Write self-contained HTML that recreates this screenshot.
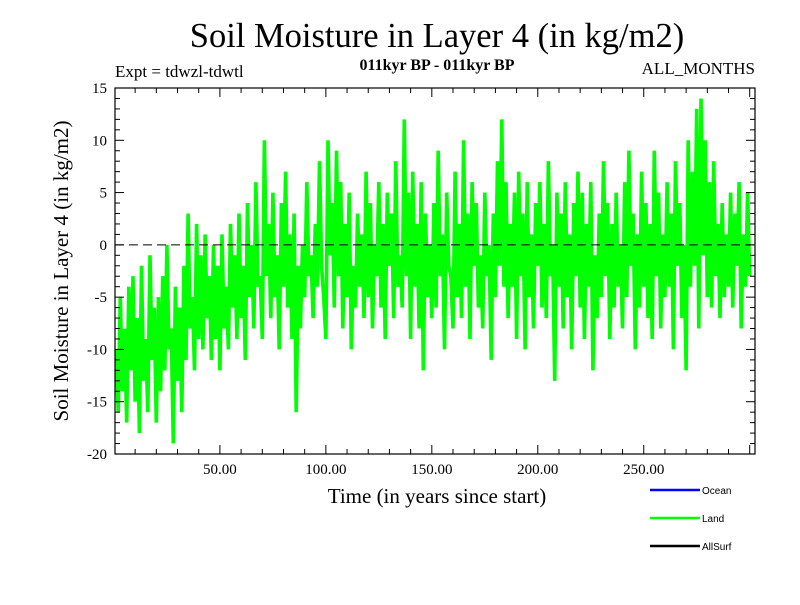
<!DOCTYPE html>
<html><head><meta charset="utf-8"><style>
body{margin:0;background:#fff}
svg text{font-family:"Liberation Serif",serif}
</style></head><body>
<svg id="chart" width="800" height="600" viewBox="0 0 800 600">
<rect width="800" height="600" fill="#fff"/>
<text x="437" y="47" font-size="34.5" text-anchor="middle">Soil Moisture in Layer 4 (in kg/m2)</text>
<text x="115" y="77" font-size="17">Expt = tdwzl-tdwtl</text>
<text x="437" y="70" font-size="16" font-weight="bold" text-anchor="middle">011kyr BP - 011kyr BP</text>
<text x="755" y="74" font-size="17" text-anchor="end">ALL_MONTHS</text>
<text transform="translate(68,271) rotate(-90)" font-size="21" text-anchor="middle">Soil Moisture in Layer 4 (in kg/m2)</text>
<text x="437" y="503" font-size="21" text-anchor="middle">Time (in years since start)</text>
<g id="plot"></g>
<g>
<line x1="650" y1="490" x2="700" y2="490" stroke="#0000ff" stroke-width="2.5"/>
<text x="702" y="494" font-size="10" style="font-family:'Liberation Sans',sans-serif">Ocean</text>
<line x1="650" y1="518" x2="700" y2="518" stroke="#00ff00" stroke-width="2.5"/>
<text x="702" y="522" font-size="10" style="font-family:'Liberation Sans',sans-serif">Land</text>
<line x1="650" y1="546" x2="700" y2="546" stroke="#000" stroke-width="2.5"/>
<text x="702" y="550" font-size="10" style="font-family:'Liberation Sans',sans-serif">AllSurf</text>
</g>
</svg>
<script>
const years = Array.from({length:300},(_, i)=>i+1);
const landValues = [
-10,-16,-5,-14,-8,-17,-4,-12,-3,-15,
-7,-18,-2,-13,-9,-16,-1,-11,-6,-17,
-5,-14,-3,-12,0,-10,-8,-19,-4,-13,
-6,-16,-2,-11,3,-8,-5,-12,2,-9,
-1,-10,1,-7,-3,-11,0,-9,-2,-12,
1,-8,-4,-10,2,-6,-1,-9,3,-7,
-2,-11,4,-5,0,-8,6,-4,-3,-9,
10,-3,2,-7,5,-5,-1,-10,4,-4,
7,-6,1,-9,3,-16,-2,-8,0,-5,
6,-3,-1,-7,2,-4,8,-2,-5,-9,
10,-1,4,-6,9,-3,6,-8,2,-5,
5,-10,-2,-6,3,-4,1,-7,7,-5,
4,-8,0,-3,6,-6,2,-9,5,-2,
3,-7,8,-4,-1,-6,12,-3,5,-9,
7,-4,2,-8,6,-12,3,-5,0,-7,
4,-6,9,-3,1,-10,5,-2,-3,-8,
7,-5,2,-7,10,-4,3,-9,6,-2,
4,-6,-1,-8,5,-3,0,-11,3,-5,
8,-2,12,-4,6,-7,2,-4,5,-9,
7,-3,3,-10,6,-5,1,-8,4,-2,
6,-6,2,-7,8,-3,0,-13,5,-4,
3,-8,6,-5,1,-10,4,-3,7,-6,
5,-9,2,-4,6,-12,-1,-7,3,-5,
8,-3,4,-9,2,-6,5,-4,0,-8,
6,-5,9,-2,3,-10,1,-6,7,-4,
4,-7,2,-9,9,-3,5,-8,1,-5,
6,-4,3,-10,8,-2,4,-7,0,-12,
10,-4,7,-2,13,-8,14,-1,10,-5,
6,-6,8,-3,2,-7,4,-5,1,-4,
5,-6,3,-2,6,-8,1,-4,5,-3];
const yTickValues = [-20,-15,-10,-5,0,5,10,15];
const yTickLabels = ["-20","-15","-10","-5","0","5","10","15"];
const xTickValues = [50,100,150,200,250];
const xTickLabels = ["50.00","100.00","150.00","200.00","250.00"];

const L=115,R=755,T=88,B=454, XMIN=0.5, XMAX=302.5, YMIN=-20, YMAX=15;
const sx=v=>L+(v-XMIN)/(XMAX-XMIN)*(R-L);
const sy=v=>B-(v-YMIN)/(YMAX-YMIN)*(B-T);
const NS="http://www.w3.org/2000/svg";
const g=document.getElementById('plot');
function mk(t,a){const e=document.createElementNS(NS,t);for(const k in a)e.setAttribute(k,a[k]);g.appendChild(e);return e;}

const pts=years.map((y,i)=>sx(y).toFixed(1)+','+sy(landValues[i]).toFixed(1)).join(' ');
const line=mk('polyline',{points:pts,fill:'none',stroke:'#00ff00','stroke-width':3.6,'stroke-linejoin':'miter','stroke-miterlimit':2});



const zl=mk('line',{x1:L,x2:R,y1:sy(0),y2:sy(0),stroke:'#000','stroke-width':1,'stroke-dasharray':'9,5'});



const fr=mk('rect',{x:L,y:T,width:R-L,height:B-T,fill:'none',stroke:'#000','stroke-width':1.2});



for(let v=YMIN; v<=YMAX; v++){
  const major=v%5===0, len=major?9:5;
  mk('line',{x1:L,x2:L+len,y1:sy(v),y2:sy(v),stroke:'#000','stroke-width':1});
  mk('line',{x1:R,x2:R-len,y1:sy(v),y2:sy(v),stroke:'#000','stroke-width':1});
}
yTickValues.forEach((v,i)=>{
  const t=mk('text',{x:L-8,y:sy(v)+5,'font-size':15,'text-anchor':'end'});
  t.textContent=yTickLabels[i];
  
  
});
for(let v=10; v<=300; v+=10){
  const major=v%50===0, len=major?9:5;
  mk('line',{x1:sx(v),x2:sx(v),y1:B,y2:B-len,stroke:'#000','stroke-width':1});
  mk('line',{x1:sx(v),x2:sx(v),y1:T,y2:T+len,stroke:'#000','stroke-width':1});
}
xTickValues.forEach((v,i)=>{
  const t=mk('text',{x:sx(v),y:B+20,'font-size':15,'text-anchor':'middle'});
  t.textContent=xTickLabels[i];
  
  
});
</script>
</body></html>
